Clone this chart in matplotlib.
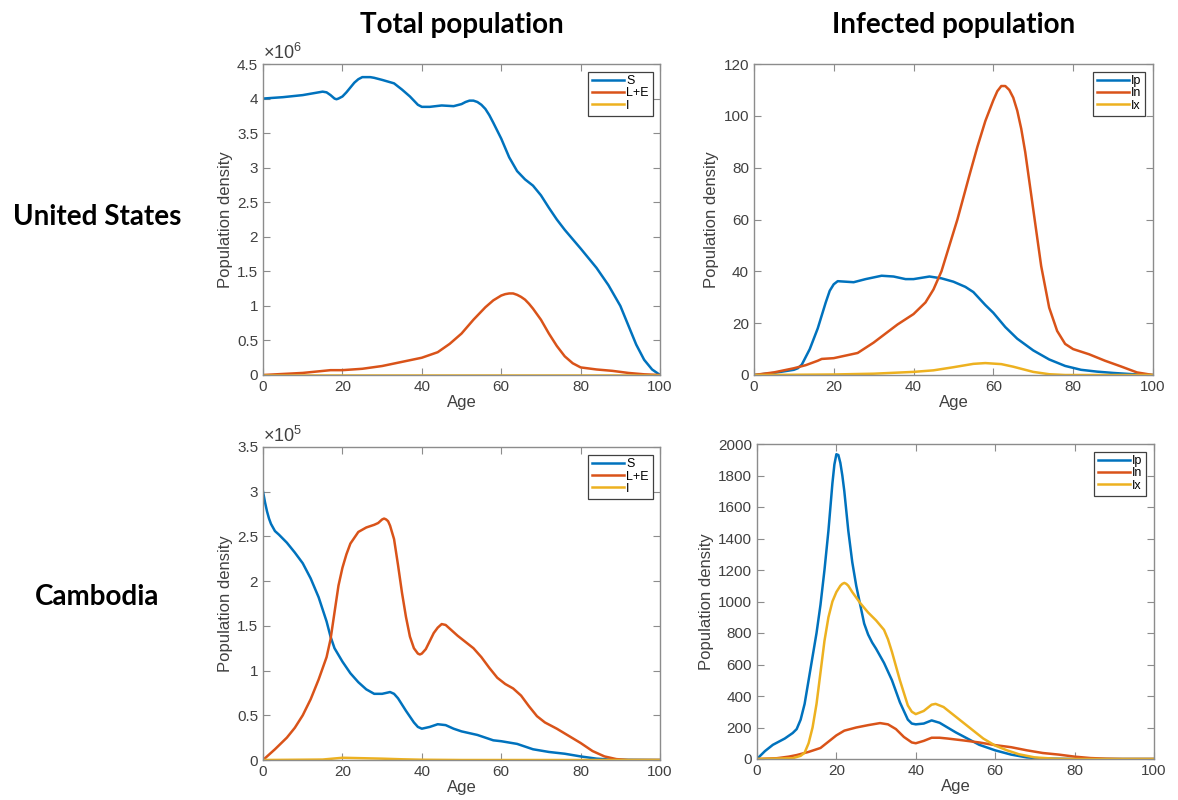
import matplotlib
matplotlib.use('Agg')
import matplotlib.pyplot as plt
from matplotlib.ticker import FuncFormatter

# DATA -----------------------------------------------------------------------
# United States, total population (values in units of 1e6)
us_s_age = [0, 5, 10, 15, 16, 17, 18, 18.5, 19, 20, 21, 22, 23, 24, 25, 26, 27, 28, 30, 33, 35,
            37, 38, 39, 40, 42, 45, 48, 50, 51, 52, 53, 54, 55, 56, 57, 58, 60, 62, 64, 66, 68,
            70, 72, 74, 76, 80, 84, 87, 90, 92, 94, 96, 98, 100]
us_s = [4.0, 4.02, 4.05, 4.1, 4.09, 4.05, 4.0, 3.99, 4.0, 4.03, 4.09, 4.16, 4.23, 4.28, 4.31,
        4.31, 4.31, 4.3, 4.27, 4.22, 4.13, 4.03, 3.97, 3.91, 3.88, 3.88, 3.9, 3.89, 3.92, 3.95,
        3.97, 3.97, 3.95, 3.91, 3.85, 3.76, 3.65, 3.42, 3.15, 2.95, 2.83, 2.74, 2.6, 2.42, 2.25,
        2.1, 1.83, 1.55, 1.3, 1.0, 0.72, 0.44, 0.22, 0.08, 0.0]
us_le_age = [0, 10, 17, 20, 25, 30, 35, 40, 44, 47, 50, 53, 56, 58, 60, 61, 62, 63, 64, 65, 66,
             67, 68, 70, 72, 74, 76, 78, 80, 84, 88, 92, 96, 100]
us_le = [0, 0.03, 0.07, 0.07, 0.09, 0.13, 0.19, 0.25, 0.33, 0.45, 0.6, 0.8, 0.98, 1.08, 1.15,
         1.17, 1.18, 1.18, 1.16, 1.13, 1.09, 1.03, 0.96, 0.8, 0.6, 0.42, 0.27, 0.17, 0.11, 0.08,
         0.06, 0.03, 0.01, 0]
us_i_age = [0, 100]
us_i = [0, 0]

# United States, infected population
us_ip_age = [0, 5, 10, 11, 12, 14, 16, 18, 19, 20, 21, 23, 25, 28, 32, 35, 38, 40, 44, 47, 50,
             53, 55, 58, 60, 63, 66, 70, 74, 78, 82, 86, 90, 95, 100]
us_ip = [0, 0.8, 2, 2.6, 4, 10, 18, 28, 32.5, 35, 36.2, 36, 35.8, 37, 38.3, 38, 37, 37, 38,
         37.3, 36, 34, 32, 27, 24, 18.5, 14, 9.5, 6, 3.5, 2, 1.3, 0.8, 0.3, 0]
us_in_age = [0, 5, 10, 13, 16, 17, 20, 23, 26, 28, 30, 33, 36, 40, 43, 45, 47, 49, 51, 54, 56,
             58, 60, 61, 62, 63, 64, 65, 66, 67, 68, 70, 72, 74, 76, 78, 80, 82, 84, 88, 92, 96,
             100]
us_in = [0, 1, 2.6, 3.8, 5.5, 6.2, 6.5, 7.5, 8.5, 10.5, 12.5, 16, 19.5, 23.5, 28, 33, 40, 50,
         60, 77, 88, 98, 106, 109.5, 111.5, 111.5, 110, 107, 102, 95, 86, 64, 42, 26, 17, 12,
         10, 9, 8, 5.5, 3.3, 1, 0]
us_ix_age = [0, 20, 30, 40, 45, 50, 55, 58, 62, 65, 70, 74, 78, 100]
us_ix = [0, 0.2, 0.5, 1.2, 1.8, 3, 4.3, 4.6, 4.2, 3.2, 1.2, 0.3, 0, 0]

# Cambodia, total population (values in units of 1e5)
kh_s_age = [0, 0.5, 1, 1.5, 2, 3, 4, 6, 8, 10, 12, 14, 16, 17, 18, 20, 22, 24, 26, 28, 30, 31,
            32, 33, 34, 36, 38, 39, 40, 42, 44, 46, 48, 50, 54, 58, 60, 64, 68, 72, 76, 80, 84,
            88, 100]
kh_s = [3.0, 2.88, 2.78, 2.7, 2.64, 2.56, 2.52, 2.43, 2.32, 2.2, 2.03, 1.82, 1.55, 1.38, 1.25,
        1.1, 0.97, 0.87, 0.79, 0.74, 0.74, 0.75, 0.76, 0.74, 0.69, 0.55, 0.42, 0.37, 0.35, 0.37,
        0.4, 0.39, 0.35, 0.32, 0.28, 0.22, 0.21, 0.18, 0.12, 0.09, 0.07, 0.04, 0.015, 0.003, 0]
kh_le_age = [0, 3, 6, 8, 10, 12, 14, 16, 17, 18, 19, 20, 21, 22, 24, 26, 28, 29, 29.5, 30, 30.5,
             31, 31.5, 32, 33, 34, 35, 36, 37, 38, 39, 39.5, 40, 41, 42, 43, 44, 45, 46, 47, 49,
             51, 53, 55, 57, 59, 61, 63, 65, 67, 69, 71, 74, 77, 80, 83, 86, 89, 92, 100]
kh_le = [0, 0.12, 0.25, 0.36, 0.5, 0.68, 0.9, 1.15, 1.35, 1.65, 1.95, 2.15, 2.3, 2.42, 2.55,
         2.6, 2.63, 2.65, 2.67, 2.69, 2.7, 2.69, 2.67, 2.62, 2.47, 2.18, 1.87, 1.6, 1.38, 1.25,
         1.19, 1.18, 1.19, 1.24, 1.33, 1.42, 1.48, 1.52, 1.51, 1.47, 1.39, 1.32, 1.25, 1.15,
         1.03, 0.92, 0.85, 0.8, 0.72, 0.6, 0.49, 0.42, 0.35, 0.27, 0.19, 0.1, 0.04, 0.01, 0, 0]
kh_i_age = [0, 15, 20, 25, 30, 35, 40, 50, 100]
kh_i = [0, 0.005, 0.025, 0.02, 0.015, 0.008, 0.003, 0, 0]

# Cambodia, infected population
kh_ip_age = [0, 2, 4, 7, 9, 10, 11, 12, 13, 14, 15, 16, 17, 18, 19, 19.5, 20, 20.5, 21, 21.5,
             22, 23, 24, 25, 26, 27, 28, 29, 30, 32, 34, 35, 36, 38, 39, 40, 42, 44, 46, 48, 50,
             53, 56, 60, 64, 68, 72, 80, 100]
kh_ip = [0, 50, 90, 130, 165, 190, 250, 350, 500, 650, 800, 980, 1200, 1450, 1750, 1870, 1935,
         1930, 1880, 1800, 1700, 1450, 1250, 1100, 980, 860, 790, 740, 700, 610, 500, 430, 360,
         250, 225, 220, 225, 245, 230, 200, 170, 130, 90, 55, 28, 10, 3, 0, 0]
kh_in_age = [0, 5, 8, 10, 13, 16, 18, 20, 22, 25, 28, 31, 33, 35, 37, 39, 40, 42, 44, 46, 48,
             52, 56, 60, 64, 68, 72, 76, 80, 84, 88, 92, 100]
kh_in = [0, 5, 15, 25, 45, 70, 110, 150, 180, 200, 215, 228, 220, 190, 140, 105, 100, 115, 135,
         135, 130, 118, 105, 88, 75, 55, 38, 28, 15, 6, 2, 0, 0]
kh_ix_age = [0, 9, 11, 12, 13, 14, 15, 16, 17, 18, 19, 20, 21, 21.5, 22, 22.5, 23, 24, 26, 28,
             30, 32, 33, 34, 35, 36, 37, 38, 39, 40, 42, 44, 45, 47, 49, 51, 53, 55, 57, 60, 63,
             66, 70, 75, 80, 100]
kh_ix = [0, 5, 20, 40, 100, 200, 350, 550, 750, 900, 1000, 1060, 1100, 1112, 1118, 1112, 1100,
         1060, 990, 930, 880, 820, 760, 680, 590, 500, 420, 340, 300, 285, 305, 345, 350, 330,
         290, 250, 210, 170, 130, 85, 55, 30, 10, 2, 0, 0]

col_titles = ['Total population', 'Infected population']
row_titles = ['United States', 'Cambodia']
total_labels = ['S', 'L+E', 'I']
infected_labels = ['Ip', 'In', 'Ix']
# ----------------------------------------------------------------------------

colors = ['#0072BD', '#D95319', '#EDB120']
tick_col = '#404040'
spine_col = '#8c8c8c'

plt.rcParams['font.family'] = ['Liberation Sans', 'DejaVu Sans']
plt.rcParams['mathtext.fontset'] = 'custom'
plt.rcParams['mathtext.rm'] = 'Liberation Sans'
plt.rcParams['mathtext.it'] = 'Liberation Sans'

fig = plt.figure(figsize=(11.78, 8), dpi=100)

positions = [[0.2233, 0.53125, 0.337, 0.38875],
             [0.640, 0.53125, 0.3387, 0.38875],
             [0.2233, 0.05, 0.337, 0.39125],
             [0.6426, 0.05125, 0.337, 0.39375]]


def style_axes(ax, ymax, ystep, scale=None):
    ax.set_xlim(0, 100)
    ax.set_ylim(0, ymax)
    ax.set_xticks(range(0, 101, 20))
    yt = [i * ystep for i in range(int(round(ymax / ystep)) + 1)]
    ax.set_yticks(yt)
    if scale:
        ax.yaxis.set_major_formatter(FuncFormatter(lambda v, p: '%g' % (v / scale)))
    ax.tick_params(direction='in', top=True, right=True, length=5, width=0.8,
                   color=spine_col, labelcolor=tick_col, labelsize=11)
    for sp in ax.spines.values():
        sp.set_color(spine_col)
        sp.set_linewidth(1.0)
    ax.set_xlabel('Age', fontsize=12, color=tick_col, labelpad=1)
    ax.set_ylabel('Population density', fontsize=12, color=tick_col, labelpad=3)


def add_legend(ax):
    leg = ax.legend(loc='upper right', fontsize=9, handlelength=2.6, handletextpad=0.15,
                    labelspacing=0.02, borderpad=0.3, borderaxespad=0.6, fancybox=False,
                    framealpha=1)
    leg.get_frame().set_edgecolor('#404040')
    leg.get_frame().set_linewidth(0.9)


lw = 1.8

# United States - total
ax = fig.add_axes(positions[0])
for a, v, lab, c in zip([us_s_age, us_le_age, us_i_age], [us_s, us_le, us_i], total_labels, colors):
    ax.plot(a, [x * 1e6 for x in v], color=c, lw=lw, label=lab)
style_axes(ax, 4.5e6, 0.5e6, scale=1e6)
ax.text(0.0, 1.003, r'$\times10^{6}$', transform=ax.transAxes, fontsize=13, color=tick_col,
        ha='left', va='bottom')
add_legend(ax)
ax.set_title(col_titles[0], fontsize=20, fontweight='bold', family='Lato', pad=22)

# United States - infected
ax = fig.add_axes(positions[1])
for a, v, lab, c in zip([us_ip_age, us_in_age, us_ix_age], [us_ip, us_in, us_ix], infected_labels, colors):
    ax.plot(a, v, color=c, lw=lw, label=lab)
style_axes(ax, 120, 20)
add_legend(ax)
ax.set_title(col_titles[1], fontsize=20, fontweight='bold', family='Lato', pad=22)

# Cambodia - total
ax = fig.add_axes(positions[2])
for a, v, lab, c in zip([kh_s_age, kh_le_age, kh_i_age], [kh_s, kh_le, kh_i], total_labels, colors):
    ax.plot(a, [x * 1e5 for x in v], color=c, lw=lw, label=lab)
style_axes(ax, 3.5e5, 0.5e5, scale=1e5)
ax.text(0.0, 1.003, r'$\times10^{5}$', transform=ax.transAxes, fontsize=13, color=tick_col,
        ha='left', va='bottom')
add_legend(ax)

# Cambodia - infected
ax = fig.add_axes(positions[3])
for a, v, lab, c in zip([kh_ip_age, kh_in_age, kh_ix_age], [kh_ip, kh_in, kh_ix], infected_labels, colors):
    ax.plot(a, v, color=c, lw=lw, label=lab)
style_axes(ax, 2000, 200)
add_legend(ax)

# row labels
fig.text(97 / 1178, 1 - 217 / 800, row_titles[0], fontsize=20, fontweight='bold',
         family='Lato', ha='center', va='center')
fig.text(97 / 1178, 1 - 597 / 800, row_titles[1], fontsize=20, fontweight='bold',
         family='Lato', ha='center', va='center')

fig.savefig('out.png', dpi=100)
